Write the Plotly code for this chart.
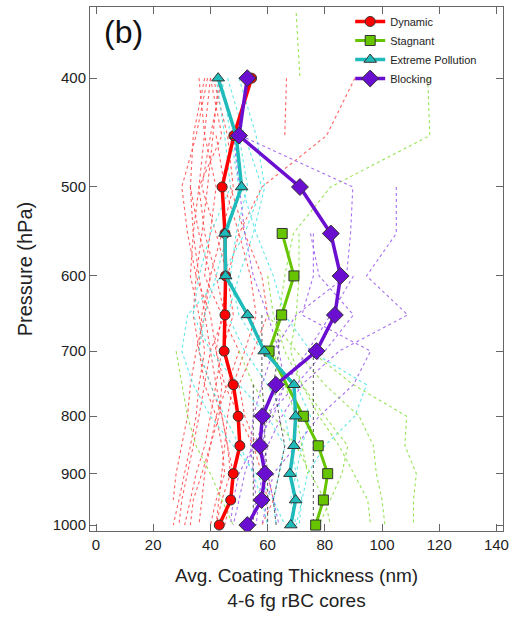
import plotly.graph_objects as go

# Pressure levels (hPa)
levels = [400, 450, 500, 550, 600, 650, 700, 750, 800, 850, 900, 950, 1000]

# Mean profiles (Avg. coating thickness, nm)
dynamic = [54.4, 48.2, 44.1, 45.1, 45.3, 45.1, 44.8, 48.0, 49.7, 50.3, 48.0, 47.1, 43.1]
stagnant_levels = [550, 600, 650, 700, 800, 850, 900, 950, 1000]
stagnant = [65.1, 69.2, 64.9, 60.5, 72.5, 77.7, 81.0, 79.5, 76.8]
extreme = [42.7, 49.0, 50.9, 45.1, 45.3, 53.0, 58.8, 69.2, 69.8, 69.2, 67.8, 69.8, 68.1]
blocking = [52.9, 50.0, 71.3, 82.1, 85.5, 83.5, 77.1, 62.9, 58.2, 57.3, 59.1, 57.9, 52.9]

N = None
# Individual profiles (values at the 13 levels above)
red_profiles = [
    [38, 34, 33, 36, 40, 38, 35, 33, 32, 30, 28, 27, N],
    [40, 44, 36, 38, 42, 45, 40, 38, 36, 34, 32, 30, 29],
    [44, 40, 37, 42, 46, 48, 44, 42, 40, 38, 35, 33, 31],
    [36, 38, 42, 40, 38, 44, 50, 46, 42, 40, 38, 37, 36],
    [41, 46, 48, 44, 40, 37, 36, 40, 44, 46, 48, 47, 45],
    [39, 35, 30, 32, 35, 40, 42, 44, 43, 40, 37, 34, 33],
    [N, 42, 45, 50, 54, 56, 52, 48, 46, 45, 44, 43, 42],
    [43, 41, 39, 37, 35, 34, 36, 38, 42, 44, 45, 42, 40],
    [N, N, 33, 34, 36, 38, 40, 42, 44, 46, 47, 44, 42],
    [90.5, 80.6, 58, 50, 46, 44, 42, 45, 50, 55, 58, 60, N],
    [66.6, 66.0, N, N, N, N, N, N, N, N, N, N, N],
    [N, N, 47, 52, 58, 60, 55, 50, 52, 56, 60, 62, 58],
    [40, 38, 36, 34, 33, 36, 38, 36, 35, 33, 31, 29, 27],
]
cyan_profiles = [
    [44, 47, 50, 46, 42, 38, 36, 40, 45, 50, 55, 58, 60],
    [46, 52, 58, 52, 44, 32, 30, 34, 40, 48, 56, 62, 66],
    [50, 56, 59, 55, 50, 46, 52, 60, 66, 68, 70, 72, 71],
    [N, 48, 51, 56, 62, 66, 75, 94.6, 90.5, 80, 74, 72, 70],
    [42, 45, 47, 40, 36, 34, 40, 50, 60, 66, 64, 62, 63],
    [N, 50, 53, 49, 47, 50, 58, 70, 75, 72, 70, 68, 70],
]
green_top_levels = [350, 400]
green_top = [70, 71.3]
green_profiles = [
    [116, 116.7, 82, 69, 66, 64, 62, 66, 70, 72, 74, N, N],
    [N, N, N, N, N, N, 75, 90, 108.6, 108, 112, 111, 111],
    [N, N, N, N, N, N, 28, 30, 32, 35, 40, 44, 48],
    [N, N, N, N, N, 60, 70, 80, 92, 97, 98, 100, 101],
    [N, N, N, 71, 71, 70, 68, 72, 78, 85, 90, 95, 96],
    [N, N, N, N, N, N, 50, 55, 62, 70, 75, 80, 82],
    [N, N, N, N, 60, 62, 66, 72, 80, 88, 86, 82, 78],
]
purple_profiles = [
    [N, 50.5, 89.8, 89, 87.6, 70, 62, 58, 55, 54, 55, 56, 54],
    [N, N, 105, 105, 94.6, 109, 85, 72, 65, 60, 58, 57, 56],
    [N, N, N, 75, 78, 90, 80, 70, 60, 55, 52, 50, 48],
    [N, N, N, 76, 76, 72, 96, 90, 78, 70, 62, 60, 58],
    [N, 48, 50, 52, 55, 60, 64, 66, 62, 55, 50, 48, 47],
    [N, N, N, N, 90, 82, 74, 66, 60, 58, 60, 62, 64],
]
black_profiles = [
    [N, N, N, N, N, 58, 58, 58, 59, 59, 60, 60, 60],
    [N, N, N, N, N, N, 76, 76, 76, 76, 76, 76, 76],
    [N, N, N, N, N, N, N, 55, 55, 55, 55, 55, 55],
    [N, N, N, N, N, 63, 64, 62, 64, 66, 64, 62, 63],
]

x_ticks = [0, 20, 40, 60, 80, 100, 120, 140]
y_ticks = [400, 500, 600, 700, 800, 900, 1000]

fig = go.Figure()

def thin(vals, color, ys=levels):
    fig.add_trace(go.Scatter(x=vals, y=ys, mode="lines", showlegend=False,
                             line=dict(color=color, width=1.1, dash="dot"),
                             hoverinfo="skip", connectgaps=False))

for p in red_profiles:
    thin(p, "rgba(255,70,70,0.85)")
for p in cyan_profiles:
    thin(p, "rgba(80,230,230,0.9)")
for p in green_profiles:
    thin(p, "rgba(140,225,70,0.9)")
thin(green_top, "rgba(140,225,70,0.9)", green_top_levels)
for p in purple_profiles:
    thin(p, "rgba(160,95,240,0.9)")
for p in black_profiles:
    thin(p, "rgba(60,60,60,0.8)")

mline = dict(color="#333333", width=1)
fig.add_trace(go.Scatter(x=dynamic, y=levels, name="Dynamic", mode="lines+markers",
                         line=dict(color="#ff0000", width=3.5),
                         marker=dict(symbol="circle", size=10, color="#ff0000", line=mline)))
fig.add_trace(go.Scatter(x=stagnant, y=stagnant_levels, name="Stagnant", mode="lines+markers",
                         line=dict(color="#66c400", width=3),
                         marker=dict(symbol="square", size=10, color="#66c400", line=mline)))
fig.add_trace(go.Scatter(x=extreme, y=levels, name="Extreme Pollution", mode="lines+markers",
                         line=dict(color="#1fbaba", width=3.5),
                         marker=dict(symbol="triangle-up", size=11, color="#1fbaba", line=mline)))
fig.add_trace(go.Scatter(x=blocking, y=levels, name="Blocking", mode="lines+markers",
                         line=dict(color="#6a0fd0", width=3.5),
                         marker=dict(symbol="diamond", size=13, color="#6a0fd0", line=mline)))

axis_common = dict(showline=True, linecolor="#666666", linewidth=1, mirror="ticks",
                   ticks="inside", ticklen=7, tickcolor="#666666", showgrid=False,
                   zeroline=False, tickfont=dict(family="Liberation Sans, Arial", size=15, color="#222222"))

fig.update_layout(
    width=517, height=617,
    margin=dict(l=90, r=14, t=7, b=86),
    paper_bgcolor="white", plot_bgcolor="white",
    font=dict(family="Liberation Sans, Arial", color="#222222"),
    xaxis=dict(range=[-2.1, 142.3], tickvals=x_ticks,
               title=dict(text="Avg. Coating Thickness (nm)<br>4-6 fg rBC cores",
                          font=dict(size=19), standoff=16),
               **axis_common),
    yaxis=dict(type="log", range=[3.0053, 2.5387], tickvals=y_ticks,
               ticktext=[str(v) for v in y_ticks],
               title=dict(text="Pressure (hPa)", font=dict(size=20), standoff=14),
               **axis_common),
    legend=dict(x=0.63, y=1.0, xanchor="left", yanchor="top",
                font=dict(size=11, color="#222222"), bgcolor="rgba(0,0,0,0)",
                tracegroupgap=0, itemwidth=30),
    showlegend=True,
)
fig.add_annotation(text="(b)", xref="paper", yref="paper", x=0.028, y=0.99,
                   xanchor="left", yanchor="top", showarrow=False,
                   font=dict(size=32, color="#111111", family="Liberation Sans, Arial"))

fig.write_html("out.html")
